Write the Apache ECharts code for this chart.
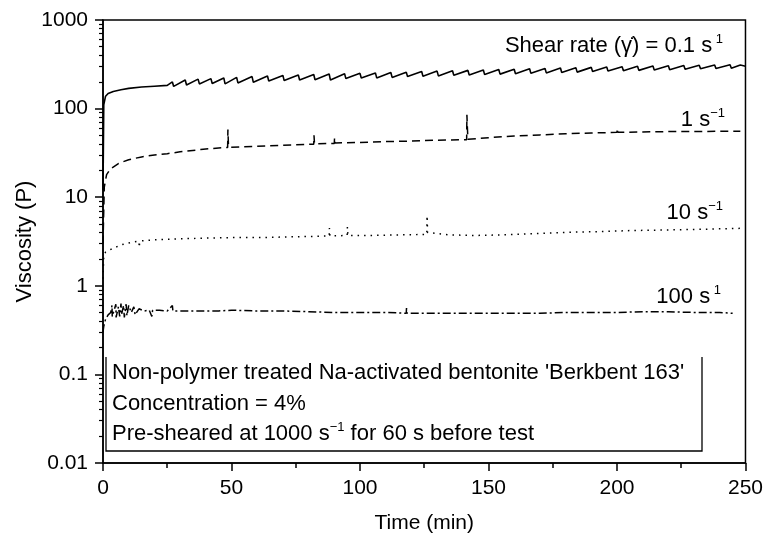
<!DOCTYPE html>
<html>
<head>
<meta charset="utf-8">
<script src="https://cdn.jsdelivr.net/npm/echarts@6/dist/echarts.min.js"></script>
<style>html,body{margin:0;padding:0;background:#fff}#c{width:766px;height:539px}</style>
</head>
<body>
<div id="c"></div>
<script>
// ---- data ----
const xTicks = [0, 50, 100, 150, 200, 250];
const yTickLabels = ['0.01', '0.1', '1', '10', '100', '1000'];
const yMinorTicks = [0.02,0.03,0.04,0.05,0.06,0.07,0.08,0.09,
  0.2,0.3,0.4,0.5,0.6,0.7,0.8,0.9,
  2,3,4,5,6,7,8,9,
  20,30,40,50,60,70,80,90,
  200,300,400,500,600,700,800,900];

// Shear rate 0.1 s^-1 (solid)
const rate01 = [[0,12],[0.3,110],[1,138],[2,148],[4,156],[7,163],[10,169],[15,175],[20,179],[25,183],
  [27,200],[27.5,178],[32,210],[32.5,185],[37,215],[37.5,190],[42,218],[42.5,192],[47,222],[47.5,190],
  [52,225],[52.5,195],[58,230],[58.5,198],[64,233],[64.5,205],[70,237],[70.5,207],[76,240],[76.5,210],
  [82,243],[82.5,212],[88,246],[88.5,210],[94,248],[94.5,218],[100,250],[100.5,222],[106,253],[106.5,222],
  [112,256],[112.5,225],[118,258],[118.5,230],[124,262],[124.5,232],[130,265],[130.5,234],[136,268],[136.5,238],
  [142,270],[142.5,240],[148,273],[148.5,242],[154,276],[154.5,245],[160,278],[160.5,248],[166,282],[166.5,250],
  [172,284],[172.5,253],[178,287],[178.5,255],[184,290],[184.5,258],[190,292],[190.5,262],[196,295],[196.5,265],
  [202,297],[202.5,268],[208,300],[208.5,270],[214,302],[214.5,272],[220,305],[220.5,275],[226,307],[226.5,278],
  [232,309],[232.5,282],[238,311],[238.5,284],[244,312],[244.5,285],[248,310],[250,300]];

// Shear rate 1 s^-1 (dashed)
const rate1 = [[0,3],[0.5,13],[1.4,18],[3,21],[6,24],[10,26.5],[15,28.5],[20,30],[25,31],[30,32.5],[38,34.5],
  [45,36],[48.5,36.5],[48.6,58],[48.8,40],[49.2,36.5],[55,37],[60,37.5],[70,38.5],[80,39.5],[82,39.5],[82.1,50],
  [82.3,40],[90,40.5],[90.1,47],[90.3,41],[100,41.5],[110,42.5],[120,43],[130,44],[141.5,44.5],[141.6,85],
  [141.8,60],[142,45],[150,47],[160,49],[170,50.5],[180,52],[190,53],[200,54],[200.1,60],[200.3,54],[210,54.5],
  [220,55],[230,55],[240,55.5],[248,55.5]];

// Shear rate 10 s^-1 (dotted)
const rate10 = [[0,1.2],[0.3,2.2],[1,2.4],[2,2.5],[4,2.65],[7,2.9],[10,3.05],[14,3.2],[14.1,2.7],[14.3,3.2],
  [20,3.3],[30,3.4],[40,3.45],[50,3.5],[60,3.5],[70,3.55],[80,3.6],[88,3.65],[88.1,4.5],[88.3,3.65],[95,3.7],
  [95.1,4.6],[95.3,3.7],[105,3.7],[115,3.75],[126,3.8],[126.1,6.2],[126.3,4.0],[126.5,3.8],[135,3.75],[145,3.7],
  [155,3.75],[165,3.85],[175,3.95],[185,4.05],[195,4.1],[205,4.2],[215,4.25],[225,4.3],[235,4.35],[240,4.4],[248,4.45]];

// Shear rate 100 s^-1 (dash-dot)
const rate100 = [[0,0.3],[0.3,0.35],[1,0.42],[2,0.47],[3,0.5],[3.5,0.6],[3.6,0.45],[4.5,0.55],[5,0.62],[5.1,0.44],
  [6,0.58],[6.5,0.45],[7,0.63],[7.2,0.47],[8,0.6],[8.3,0.44],[9,0.62],[9.3,0.46],[10,0.6],[11,0.5],[12,0.58],
  [12.5,0.47],[14,0.55],[16,0.52],[18,0.53],[19,0.45],[19.3,0.53],[22,0.53],[25,0.52],[27,0.6],[27.2,0.52],
  [35,0.52],[45,0.52],[50,0.53],[60,0.52],[70,0.52],[80,0.51],[90,0.5],[100,0.5],[110,0.5],[118,0.49],
  [118.1,0.56],[118.3,0.49],[130,0.49],[140,0.49],[150,0.49],[160,0.49],[170,0.49],[180,0.5],[190,0.5],
  [200,0.5],[210,0.51],[220,0.51],[230,0.5],[240,0.5],[245,0.49]];

// ---- chart ----
const FONT = '"Liberation Sans", Arial, sans-serif';
const chart = echarts.init(document.getElementById('c'), null, {renderer: 'canvas'});
const lineBase = {type: 'line', showSymbol: false, symbol: 'none', animation: false, xAxisIndex: 0, yAxisIndex: 0};
const supStyle = {fontSize: 13, fontFamily: FONT, color: '#000', padding: [0, 0, 12, 0]};
const mainStyle = {fontSize: 22, fontFamily: FONT, color: '#000'};

chart.setOption({
  animation: false,
  backgroundColor: '#fff',
  grid: {left: 103, right: 20, top: 20, bottom: 76, show: true, borderColor: '#000', borderWidth: 1.5, containLabel: false},
  xAxis: [{
    type: 'value', min: 0, max: 250, interval: 50,
    name: 'Time (min)', nameLocation: 'middle', nameGap: 50,
    nameTextStyle: {fontSize: 21, fontFamily: FONT, color: '#000'},
    axisLine: {show: true, lineStyle: {color: '#000', width: 1.5}},
    axisTick: {show: true, inside: false, length: 8, lineStyle: {color: '#000', width: 1.5}},
    minorTick: {show: true, splitNumber: 2, length: 5, lineStyle: {color: '#000', width: 1.5}},
    axisLabel: {fontSize: 21, fontFamily: FONT, color: '#000', margin: 15,
      formatter: v => (xTicks.indexOf(v) >= 0 ? String(v) : '')},
    splitLine: {show: false}
  }],
  yAxis: [{
    type: 'log', logBase: 10, min: 0.01, max: 1000,
    name: 'Viscosity (P)', nameLocation: 'middle', nameGap: 67, nameRotate: 90, nameMoveOverlap: false,
    nameTextStyle: {fontSize: 22, fontFamily: FONT, color: '#000'},
    axisLine: {show: true, lineStyle: {color: '#000', width: 1.5}},
    axisTick: {show: true, inside: false, length: 8, lineStyle: {color: '#000', width: 1.5}},
    axisLabel: {fontSize: 21, fontFamily: FONT, color: '#000', margin: 15,
      formatter: v => { const i = Math.round(Math.log10(v)) + 2; return yTickLabels[i] || ''; }},
    splitLine: {show: false}
  }, {
    type: 'log', logBase: 10, min: 0.01, max: 1000, position: 'left',
    axisLine: {show: false},
    axisLabel: {show: false},
    axisTick: {show: true, inside: false, length: 4, customValues: yMinorTicks, lineStyle: {color: '#000', width: 1.2}},
    splitLine: {show: false}
  }],
  series: [
    Object.assign({}, lineBase, {name: '0.1', data: rate01, lineStyle: {color: '#000', width: 1.6, type: 'solid'}}),
    Object.assign({}, lineBase, {name: '1', data: rate1, lineStyle: {color: '#000', width: 1.5, type: [8, 5]}}),
    Object.assign({}, lineBase, {name: '10', data: rate10, lineStyle: {color: '#000', width: 1.5, type: [1.5, 5]}}),
    Object.assign({}, lineBase, {name: '100', data: rate100, lineStyle: {color: '#000', width: 1.5, type: [8, 3, 2, 3]}})
  ],
  graphic: [
    {type: 'text', right: 43, top: 33, style: {
      text: '{m|Shear rate (γ̇) = 0.1 s}{s| 1}', rich: {m: mainStyle, s: supStyle}}},
    {type: 'text', right: 41, top: 107, style: {
      text: '{m|1 s}{s|−1}', rich: {m: mainStyle, s: supStyle}}},
    {type: 'text', right: 43, top: 200, style: {
      text: '{m|10 s}{s|−1}', rich: {m: mainStyle, s: supStyle}}},
    {type: 'text', right: 45, top: 284, style: {
      text: '{m|100 s}{s| 1}', rich: {m: mainStyle, s: supStyle}}},
    {type: 'polyline', shape: {points: [[106, 357], [106, 451], [702, 451], [702, 357]]},
      style: {stroke: '#000', lineWidth: 1.3, fill: null}},
    {type: 'text', left: 112, top: 362, style: {text: "Non-polymer treated Na-activated bentonite 'Berkbent 163'", font: '22px ' + FONT, fill: '#000'}},
    {type: 'text', left: 112, top: 393, style: {text: 'Concentration = 4%', font: '22px ' + FONT, fill: '#000'}},
    {type: 'text', left: 112, top: 421, style: {
      text: '{m|Pre-sheared at 1000 s}{s|−1}{m| for 60 s before test}', rich: {m: mainStyle, s: supStyle}}}
  ]
});
</script>
</body>
</html>
